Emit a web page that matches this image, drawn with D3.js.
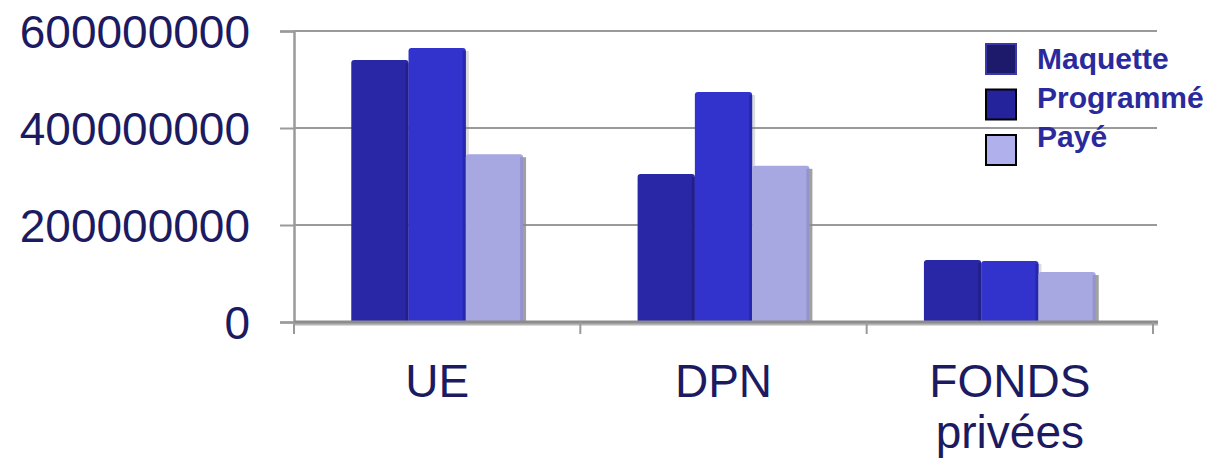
<!DOCTYPE html>
<html>
<head>
<meta charset="utf-8">
<script src="https://cdn.jsdelivr.net/npm/d3@7"></script>
<style>
  body { margin: 0; background: #fff; }
  svg { display: block; font-family: Arial, 'Liberation Sans', sans-serif; }
</style>
</head>
<body>
<div id="chart"></div>
<script>
// data
const categories = [['UE'], ['DPN'], ['FONDS', 'privées']]
const seriesNames = ['Maquette', 'Programmé', 'Payé']
const maquette = [540000000, 305000000, 128000000]
const programme = [565000000, 474000000, 126000000]
const paye = [346000000, 322000000, 103000000]
const yTicks = [0, 200000000, 400000000, 600000000]

const seriesValues = [maquette, programme, paye]
const barColors = ['#2a27a6', '#3232cc', '#a7a7e1']
const edgeColors = ['#1f1c80', '#2222a0', '#8c8cc4']
const legendColors = ['#1d1a6c', '#25239b', '#b0b0ec']
const legendStroke = ['#3a38a8', '#000', '#000']

const width = 1217
const height = 459
const margin = { top: 31, right: 64, bottom: 137, left: 294 }
const axisColor = '#9a9a9a'
const labelColor = '#1c1b62'

const svg = d3
  .select('#chart')
  .append('svg')
  .attr('width', width)
  .attr('height', height)

// scales
const x0 = d3
  .scaleBand()
  .domain(categories.map(c => c.join(' ')))
  .range([margin.left, width - margin.right])

const bw = x0.bandwidth()
const x1 = d3
  .scaleBand()
  .domain(seriesNames)
  .range([bw * 0.2, bw * 0.8])

const y = d3
  .scaleLinear()
  .domain([0, 600000000])
  .range([height - margin.bottom, margin.top])

// grid lines
svg
  .append('g')
  .selectAll('line')
  .data(yTicks.filter(d => d > 0))
  .enter()
  .append('line')
  .attr('x1', margin.left)
  .attr('x2', width - margin.right + 4)
  .attr('y1', d => y(d))
  .attr('y2', d => y(d))
  .attr('stroke', axisColor)
  .attr('stroke-width', 2)

// y axis
const yAxis = svg
  .append('g')
  .attr('transform', `translate(${margin.left},0)`)
  .call(d3.axisLeft(y).tickValues(yTicks).tickSize(14).tickFormat(''))
yAxis.select('.domain').attr('stroke', axisColor).attr('stroke-width', 2.5)
yAxis.selectAll('.tick line').attr('stroke', axisColor).attr('stroke-width', 2)

// y tick labels
svg
  .append('g')
  .selectAll('text')
  .data(yTicks)
  .enter()
  .append('text')
  .attr('x', 250)
  .attr('y', d => y(d) + 17)
  .attr('text-anchor', 'end')
  .attr('font-size', 46)
  .attr('fill', labelColor)
  .text(d => d)

// bars
const groups = svg
  .append('g')
  .selectAll('g')
  .data(categories)
  .enter()
  .append('g')
  .attr('transform', d => `translate(${x0(d.join(' '))},0)`)

seriesNames.forEach((name, si) => {
  const data = categories.map((c, ci) => seriesValues[si][ci])
  const w = x1.bandwidth()

  // shadow
  groups
    .append('rect')
    .attr('x', x1(name) + 3)
    .attr('y', (c, ci) => y(data[ci]) + 3)
    .attr('width', w)
    .attr('height', (c, ci) => y(0) - y(data[ci]) - 3)
    .attr('fill', '#8a8a8a')
    .attr('opacity', si === 2 ? 0.8 : 0.3)

  groups
    .append('path')
    .attr('d', (c, ci) => {
      const x = x1(name)
      const top = y(data[ci])
      const r = 3
      return `M${x},${y(0)}V${top + r}Q${x},${top} ${x + r},${top}H${x + w - r}Q${x + w},${top} ${x + w},${top + r}V${y(0)}Z`
    })
    .attr('fill', barColors[si])

  // darker right edge for the bevel look
  groups
    .append('rect')
    .attr('x', x1(name) + w - 3)
    .attr('y', (c, ci) => y(data[ci]) + 3)
    .attr('width', 3)
    .attr('height', (c, ci) => y(0) - y(data[ci]) - 3)
    .attr('fill', edgeColors[si])
    .attr('opacity', 0.7)
})

// x axis baseline with shadow
svg
  .append('line')
  .attr('x1', margin.left)
  .attr('x2', width - margin.right + 5)
  .attr('y1', y(0) + 2)
  .attr('y2', y(0) + 2)
  .attr('stroke', '#b5b5b5')
  .attr('stroke-width', 3)
svg
  .append('line')
  .attr('x1', margin.left)
  .attr('x2', width - margin.right + 5)
  .attr('y1', y(0))
  .attr('y2', y(0))
  .attr('stroke', '#8c8c8c')
  .attr('stroke-width', 3)

// category separators below the axis
const sepX = x0.domain().map(d => x0(d)).concat([x0.range()[1]])
svg
  .append('g')
  .selectAll('line')
  .data(sepX)
  .enter()
  .append('line')
  .attr('x1', d => d)
  .attr('x2', d => d)
  .attr('y1', y(0))
  .attr('y2', y(0) + 12)
  .attr('stroke', axisColor)
  .attr('stroke-width', 2)

// category labels
const catLabels = svg
  .append('g')
  .selectAll('text')
  .data(categories)
  .enter()
  .append('text')
  .attr('x', d => x0(d.join(' ')) + bw / 2)
  .attr('y', y(0) + 75)
  .attr('text-anchor', 'middle')
  .attr('font-size', 46)
  .attr('fill', labelColor)

catLabels
  .selectAll('tspan')
  .data(d => d)
  .enter()
  .append('tspan')
  .attr('x', function () {
    return d3.select(this.parentNode).attr('x')
  })
  .attr('dy', (d, i) => (i === 0 ? 0 : 51))
  .text(d => d)

// legend
const legend = svg.append('g').attr('transform', 'translate(986,44)')
seriesNames.forEach((name, i) => {
  const item = legend.append('g').attr('transform', `translate(0,${i * 45.5})`)
  item
    .append('rect')
    .attr('width', 30)
    .attr('height', 30)
    .attr('fill', legendColors[i])
    .attr('stroke', legendStroke[i])
    .attr('stroke-width', 2)
  item
    .append('text')
    .attr('x', 51)
    .attr('y', 25 - i * 6.5)
    .attr('font-size', 30)
    .attr('font-weight', 'bold')
    .attr('fill', '#2a2a9c')
    .text(name)
})
</script>
</body>
</html>
